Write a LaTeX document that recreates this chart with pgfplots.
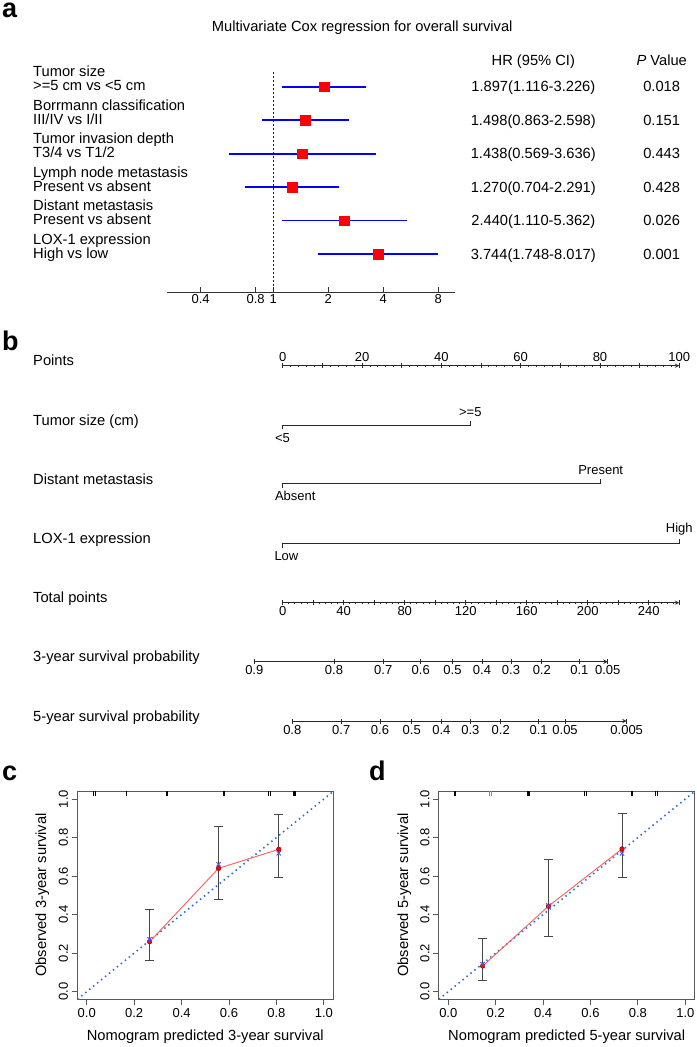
\documentclass[border=0pt]{standalone}
\usepackage{fontspec}
\setmainfont{Liberation Sans}
\usepackage{pgfplots}
\pgfplotsset{compat=1.18}
\definecolor{ciblue}{RGB}{0,0,255}
\definecolor{sqred}{RGB}{255,0,0}
\definecolor{diagblue}{RGB}{45,110,215}
\definecolor{errgray}{RGB}{70,70,70}
\definecolor{redline}{RGB}{255,90,90}
\definecolor{xblue}{RGB}{80,80,255}
\definecolor{nomogray}{RGB}{40,40,40}
\newcommand{\fA}{\fontsize{14.7bp}{17bp}\selectfont}
\newcommand{\fB}{\fontsize{13bp}{15bp}\selectfont}
\newcommand{\fL}{\fontsize{27bp}{30bp}\selectfont\bfseries}
\pgfplotsset{
  nomo/.style={scale only axis, height=10bp, ymin=0, ymax=1,
    axis y line=none, axis line style={-, line width=1bp, nomogray},
    tick style={nomogray, line width=0.9bp}, tick align=outside,
    major tick length=4.7bp, minor tick length=2.4bp,
    xticklabel style={font=\fB, inner sep=1.5bp}},
  calib/.style={scale only axis, width=256bp, height=208bp,
    xmin=-0.04, xmax=1.04, ymin=-0.04, ymax=1.04,
    xtick={0,0.2,0.4,0.6,0.8,1}, ytick={0,0.2,0.4,0.6,0.8,1},
    xticklabels={0.0,0.2,0.4,0.6,0.8,1.0}, yticklabels={0.0,0.2,0.4,0.6,0.8,1.0},
    tick align=outside, tick pos=left, major tick length=5.7bp,
    axis line style={black!65, line width=1bp}, tick style={black!65, line width=0.9bp},
    xticklabel style={font=\fB}, yticklabel style={font=\fB, rotate=90, anchor=south},
    clip=false},
}
\begin{document}
\begin{tikzpicture}
\path[use as bounding box] (0,0) rectangle (697bp,-1047bp);
% ---------------- panel a ----------------
\node[anchor=base west, font=\fL, inner sep=0pt] at (2bp,-17.5bp) {a};
\begin{scope}[font=\fA, inner sep=0pt]
\node[anchor=base west] at (211.7bp,-31bp) {Multivariate Cox regression for overall survival};
\node[anchor=base] at (533.3bp,-65bp) {HR (95\% CI)};
\node[anchor=base] at (661.7bp,-65bp) {{\itshape P} Value};
\end{scope}
\begin{axis}[scale only axis, width=288.3bp, height=232.7bp,
  at={(166.7bp,-292.7bp)}, anchor=south west,
  xmode=log, xmin=0.261, xmax=9.88, ymin=-7.157, ymax=-0.2,
  axis x line=bottom, axis y line=none, axis line style={-, line width=0.9bp, black!80},
  xtick={0.4,0.8,1,2,4,8}, xticklabels={0.4,0.8,1,2,4,8}, minor xtick={},
  tick align=inside, major tick length=6bp, tick style={black!80, line width=0.9bp},
  xticklabel style={font=\fB, inner sep=2bp}, clip=false]
\addplot[ciblue, dash pattern=on 2bp off 2bp, line width=1.5bp] coordinates {(1,-0.55) (1,-7.157)};
\addplot[ciblue, line width=1.7bp] coordinates {(1.116,-1) (3.226,-1)};
\addplot[ciblue, line width=1.7bp] coordinates {(0.863,-2) (2.598,-2)};
\addplot[ciblue, line width=1.7bp] coordinates {(0.569,-3) (3.636,-3)};
\addplot[ciblue, line width=1.7bp] coordinates {(0.704,-4) (2.291,-4)};
\addplot[ciblue, line width=1.7bp] coordinates {(1.110,-5) (5.362,-5)};
\addplot[ciblue, line width=1.7bp] coordinates {(1.748,-6) (8.017,-6)};
\addplot[only marks, mark=square*, mark size=4.8bp, color=sqred] coordinates {(1.897,-1) (1.498,-2) (1.438,-3) (1.270,-4) (2.440,-5) (3.744,-6)};
\end{axis}
\begin{scope}[font=\fA, inner sep=0pt]
\node[anchor=base west] at (33bp,-76.7bp) {Tumor size};
\node[anchor=base west] at (33bp,-90.7bp) {>=5 cm vs <5 cm};
\node[anchor=base west] at (33bp,-110.2bp) {Borrmann classification};
\node[anchor=base west] at (33bp,-124.2bp) {III/IV vs I/II};
\node[anchor=base west] at (33bp,-143.6bp) {Tumor invasion depth};
\node[anchor=base west] at (33bp,-157.6bp) {T3/4 vs T1/2};
\node[anchor=base west] at (33bp,-177.1bp) {Lymph node metastasis};
\node[anchor=base west] at (33bp,-191.1bp) {Present vs absent};
\node[anchor=base west] at (33bp,-210.5bp) {Distant metastasis};
\node[anchor=base west] at (33bp,-224.5bp) {Present vs absent};
\node[anchor=base west] at (33bp,-244bp) {LOX-1 expression};
\node[anchor=base west] at (33bp,-258bp) {High vs low};
\node[anchor=base] at (533.3bp,-91.7bp) {1.897(1.116-3.226)};
\node[anchor=base] at (533.3bp,-125.2bp) {1.498(0.863-2.598)};
\node[anchor=base] at (533.3bp,-158.6bp) {1.438(0.569-3.636)};
\node[anchor=base] at (533.3bp,-192.1bp) {1.270(0.704-2.291)};
\node[anchor=base] at (533.3bp,-225.5bp) {2.440(1.110-5.362)};
\node[anchor=base] at (533.3bp,-259bp) {3.744(1.748-8.017)};
\node[anchor=base] at (661.7bp,-91.7bp) {0.018};
\node[anchor=base] at (661.7bp,-125.2bp) {0.151};
\node[anchor=base] at (661.7bp,-158.6bp) {0.443};
\node[anchor=base] at (661.7bp,-192.1bp) {0.428};
\node[anchor=base] at (661.7bp,-225.5bp) {0.026};
\node[anchor=base] at (661.7bp,-259bp) {0.001};
\end{scope}
% ---------------- panel b ----------------
\node[anchor=base west, font=\fL, inner sep=0pt] at (2bp,-350bp) {b};
\begin{scope}[font=\fA, inner sep=0pt]
\node[anchor=base west] at (33bp,-365.7bp) {Points};
\node[anchor=base west] at (33bp,-425.5bp) {Tumor size (cm)};
\node[anchor=base west] at (33bp,-484bp) {Distant metastasis};
\node[anchor=base west] at (33bp,-543.5bp) {LOX-1 expression};
\node[anchor=base west] at (33bp,-602.7bp) {Total points};
\node[anchor=base west] at (33bp,-661bp) {3-year survival probability};
\node[anchor=base west] at (33bp,-721bp) {5-year survival probability};
\end{scope}
\begin{axis}[nomo, at={(282.7bp,-365.7bp)}, anchor=north west, width=396.6bp,
  xmin=0, xmax=100, axis x line=top,
  xtick={0,10,...,100}, xticklabels={0,,20,,40,,60,,80,,100}, minor x tick num=4]
\end{axis}
\begin{axis}[nomo, at={(282.7bp,-602.7bp)}, anchor=south west, width=396.6bp,
  xmin=0, xmax=260, axis x line=bottom,
  xtick={0,20,...,260}, xticklabels={0,,40,,80,,120,,160,,200,,240,}, minor x tick num=4]
\end{axis}
\begin{axis}[nomo, at={(254.3bp,-661.7bp)}, anchor=south west, width=353.4bp,
  xmin=-18.6, xmax=213.0, axis x line=bottom, major tick length=5bp,
  xtick={-18.6,33.6,65.9,90.5,111.3,130.6,149.6,169.8,194.4,213.0},
  xticklabels={0.9,0.8,0.7,0.6,0.5,0.4,0.3,0.2,0.1,0.05}]
\end{axis}
\begin{axis}[nomo, at={(292.3bp,-721bp)}, anchor=south west, width=334.4bp,
  xmin=6.3, xmax=225.5, axis x line=bottom, major tick length=5bp,
  xtick={6.3,38.4,63.8,84.6,104.0,123.0,142.9,167.8,185.1,225.5},
  xticklabels={0.8,0.7,0.6,0.5,0.4,0.3,0.2,0.1,0.05,0.005}]
\end{axis}
\begin{axis}[scale only axis, hide axis, width=396.6bp, height=1047bp,
  at={(282.7bp,-1047bp)}, anchor=south west, xmin=0, xmax=100, ymin=-1047, ymax=0, clip=false]
\addplot[nomogray, line width=1bp] coordinates {(0,-429.3) (0,-425) (47.3,-425) (47.3,-420.7)};
\addplot[nomogray, line width=1bp] coordinates {(0,-487.6) (0,-483.3) (80.2,-483.3) (80.2,-479)};
\addplot[nomogray, line width=1bp] coordinates {(0,-547.6) (0,-543.3) (100,-543.3) (100,-539)};
\end{axis}
\begin{scope}[font=\fB, inner sep=0pt]
\node[anchor=base west] at (274.8bp,-442.7bp) {<5};
\node[anchor=base] at (470.3bp,-416.7bp) {>=5};
\node[anchor=base west] at (274.8bp,-500.7bp) {Absent};
\node[anchor=base] at (600.7bp,-474.3bp) {Present};
\node[anchor=base west] at (274.3bp,-560bp) {Low};
\node[anchor=base] at (679.3bp,-532bp) {High};
\end{scope}
% ---------------- panel c ----------------
\node[anchor=base west, font=\fL, inner sep=0pt] at (2bp,-780bp) {c};
\begin{axis}[calib, at={(77.3bp,-999.3bp)}, anchor=south west]
\addplot[diagblue, line width=1.6bp, dash pattern=on 1.5bp off 3.6bp] coordinates {(-0.04,-0.04) (1.04,1.04)};
\addplot[only marks, mark=|, mark size=2.6bp, mark options={black, line width=0.9bp}] coordinates {(0.027,1.027) (0.035,1.027) (0.169,1.027) (0.768,1.027) (0.776,1.027)};
\addplot[only marks, mark=|, mark size=2.6bp, mark options={black, line width=2.2bp}] coordinates {(0.338,1.027) (0.580,1.027) (0.876,1.027)};
\addplot[only marks, mark=none, error bars/.cd, y dir=both, y explicit,
  error bar style={errgray, line width=1bp}, error mark options={errgray, rotate=90, mark size=4.5bp, line width=1bp}]
  coordinates {(0.265,0.259) += (0,0.165) -= (0,0.100) (0.556,0.640) += (0,0.216) -= (0,0.164) (0.810,0.739) += (0,0.183) -= (0,0.145)};
\addplot[redline, line width=0.9bp] coordinates {(0.265,0.259) (0.556,0.640) (0.810,0.739)};
\addplot[only marks, mark=*, mark size=2.3bp, mark options={fill=sqred, draw=sqred!70!black}] coordinates {(0.265,0.259) (0.556,0.640) (0.810,0.739)};
\addplot[only marks, mark=x, mark size=3bp, mark options={xblue, line width=0.9bp}] coordinates {(0.265,0.272) (0.556,0.661) (0.810,0.718)};
\end{axis}
\begin{scope}[font=\fA, inner sep=0pt]
\node[anchor=base] at (205.3bp,-1040.5bp) {Nomogram predicted 3-year survival};
\node[anchor=base, rotate=90] at (46bp,-895bp) {Observed 3-year survival};
\end{scope}
% ---------------- panel d ----------------
\node[anchor=base west, font=\fL, inner sep=0pt] at (369bp,-780bp) {d};
\begin{axis}[calib, at={(438.8bp,-999.3bp)}, anchor=south west]
\addplot[diagblue, line width=1.6bp, dash pattern=on 1.5bp off 3.6bp] coordinates {(-0.04,-0.04) (1.04,1.04)};
\addplot[only marks, mark=|, mark size=2.6bp, mark options={black, line width=0.9bp}] coordinates {(0.576,1.027) (0.584,1.027) (0.874,1.027) (0.882,1.027)};
\addplot[only marks, mark=|, mark size=2.6bp, mark options={black!45, line width=0.9bp}] coordinates {(0.175,1.027) (0.183,1.027)};
\addplot[only marks, mark=|, mark size=2.6bp, mark options={black, line width=2.2bp}] coordinates {(0.028,1.027) (0.338,1.027) (0.775,1.027)};
\addplot[only marks, mark=none, error bars/.cd, y dir=both, y explicit,
  error bar style={errgray, line width=1bp}, error mark options={errgray, rotate=90, mark size=4.5bp, line width=1bp}]
  coordinates {(0.145,0.133) += (0,0.143) -= (0,0.073) (0.4225,0.4435) += (0,0.2425) -= (0,0.1585) (0.733,0.741) += (0,0.186) -= (0,0.147)};
\addplot[redline, line width=0.9bp] coordinates {(0.145,0.133) (0.4225,0.4435) (0.733,0.741)};
\addplot[only marks, mark=*, mark size=2.3bp, mark options={fill=sqred, draw=sqred!70!black}] coordinates {(0.145,0.133) (0.4225,0.4435) (0.733,0.741)};
\addplot[only marks, mark=x, mark size=3bp, mark options={xblue, line width=0.9bp}] coordinates {(0.145,0.143) (0.4225,0.447) (0.733,0.717)};
\end{axis}
\begin{scope}[font=\fA, inner sep=0pt]
\node[anchor=base] at (566.7bp,-1040.5bp) {Nomogram predicted 5-year survival};
\node[anchor=base, rotate=90] at (408bp,-895bp) {Observed 5-year survival};
\end{scope}
\end{tikzpicture}
\end{document}
